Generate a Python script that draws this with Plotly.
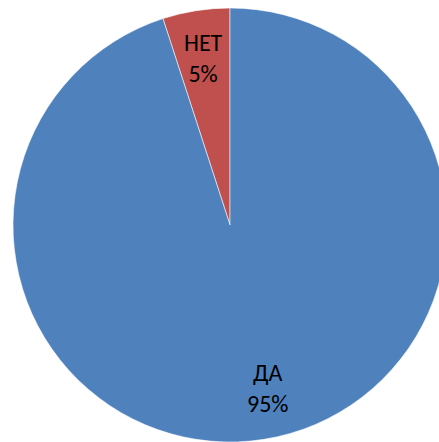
import math
import plotly.graph_objects as go

labels = ["НЕТ", "ДА"]
values = [5, 95]
colors = ["#C0504D", "#4F81BD"]

W, H = 460, 450
cx, cy, r = 230, 225, 217

total = sum(values)
first_span = 360.0 * values[0] / total

fig = go.Figure(go.Pie(
    labels=labels, values=values, sort=False, direction="clockwise",
    rotation=-first_span, textinfo="none", hoverinfo="label+percent",
    marker=dict(colors=colors, line=dict(color="rgba(255,255,255,0.55)", width=1)),
    domain=dict(x=[(cx - r) / W, (cx + r) / W], y=[(H - cy - r) / H, (H - cy + r) / H]),
    showlegend=False,
))

start = 90.0
label_r = [0.78, 0.77]
label_shift = [0.0, 4.0]
for i, (lab, v) in enumerate(zip(labels, values)):
    span = 360.0 * v / total
    mid = math.radians(start + span / 2 + label_shift[i])
    start += span
    px = cx + label_r[i] * r * math.cos(mid)
    py = cy - label_r[i] * r * math.sin(mid)
    fig.add_annotation(
        x=px / W, y=1 - py / H, xref="paper", yref="paper",
        xanchor="center", yanchor="middle",
        text=f"{lab}<br>{round(100 * v / total)}%", showarrow=False,
        font=dict(family="Carlito, Lato, sans-serif", size=24, color="black"),
        align="center",
    )

fig.update_layout(
    width=W, height=H, margin=dict(l=0, r=0, t=0, b=0),
    paper_bgcolor="white", plot_bgcolor="white",
)

fig.write_html("out.html", config={"displayModeBar": False},
               post_script="document.body.style.margin='0';document.body.style.overflow='hidden';document.documentElement.style.overflow='hidden';")
